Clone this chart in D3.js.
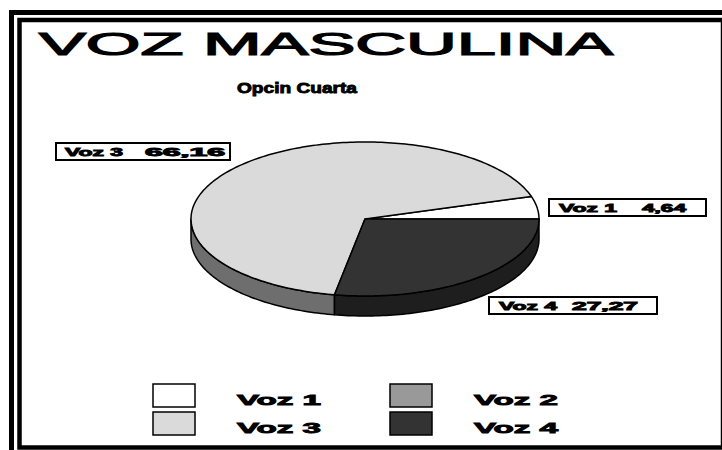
<!DOCTYPE html>
<html lang="es">
<head>
<meta charset="UTF-8">
<title>Voz Masculina</title>
<script src="https://d3js.org/d3.v7.min.js"></script>
<style>
  body { margin: 0; background: #fff; }
  svg { display: block; }
  text { font-family: "Liberation Sans", Arial, sans-serif; fill: #000; }
  .heavy { font-weight: bold; stroke: #000; stroke-width: 0.9px; }
</style>
</head>
<body>
<svg id="chart" width="722" height="450"></svg>
<script>
// data (Voz 2 has no visible slice)
const categories = ["Voz 1", "Voz 2", "Voz 3", "Voz 4"];
const values = [4.64, 0, 66.16, 27.27];
const topColors = ["#ffffff", "#999999", "#dadada", "#333333"];
const sideColors = ["#9a9a9a", "#5a5a5a", "#6e6e6e", "#1e1e1e"];

// where the value boxes sit
const labelBoxes = {
  "Voz 3": { x: 56, y: 143, w: 174, name: 65, value: 145, vw: 80 },
  "Voz 1": { x: 549, y: 199, w: 157, name: 559, value: 642, vw: 44 },
  "Voz 4": { x: 489, y: 297, w: 168, name: 499, value: 572, vw: 66 }
};

const svg = d3.select("#chart");

// double frame
svg.append("rect")
  .attr("x", 11.5).attr("y", 12.5).attr("width", 800).attr("height", 800)
  .attr("fill", "none").attr("stroke", "#000").attr("stroke-width", 5);
svg.append("rect")
  .attr("x", 19.5).attr("y", 20).attr("width", 703.5).attr("height", 427.5)
  .attr("fill", "none").attr("stroke", "#000").attr("stroke-width", 4.5);

// titles
svg.append("text")
  .attr("x", 39).attr("y", 55)
  .attr("font-size", 32)
  .attr("stroke", "#000").attr("stroke-width", 1.2)
  .attr("textLength", 574).attr("lengthAdjust", "spacingAndGlyphs")
  .text("VOZ MASCULINA");

svg.append("text")
  .attr("class", "heavy")
  .attr("x", 237).attr("y", 93)
  .attr("font-size", 15)
  .attr("textLength", 120).attr("lengthAdjust", "spacingAndGlyphs")
  .text("Opcin Cuarta");

// 3D pie
const cx = 365, cy = 219, rx = 174, ry = 77, depth = 20;
const arcs = d3.pie().sort(null).startAngle(0).endAngle(2 * Math.PI)(values);
const pt = (a, dy) => [cx + rx * Math.cos(a), cy - ry * Math.sin(a) + dy];
function arcPts(a0, a1, dy) {
  const n = Math.max(2, Math.ceil((a1 - a0) / 0.02));
  return d3.range(n + 1).map(i => pt(a0 + (a1 - a0) * i / n, dy));
}
const line = d3.line();

const pie = svg.append("g");

// side walls (front half only)
arcs.forEach((d, i) => {
  const s0 = Math.max(d.startAngle, Math.PI);
  const s1 = Math.min(d.endAngle, 2 * Math.PI);
  if (s1 <= s0) return;
  const pts = arcPts(s0, s1, 0).concat(arcPts(s0, s1, depth).reverse());
  pie.append("path")
    .attr("d", line(pts) + "Z")
    .attr("fill", sideColors[i])
    .attr("stroke", "#000").attr("stroke-width", 1.5)
    .attr("stroke-linejoin", "round");
});

// top faces
arcs.forEach((d, i) => {
  if (d.endAngle - d.startAngle <= 0) return;
  const pts = [[cx, cy]].concat(arcPts(d.startAngle, d.endAngle, 0));
  pie.append("path")
    .attr("d", line(pts) + "Z")
    .attr("fill", topColors[i])
    .attr("stroke", "#000").attr("stroke-width", 1.5)
    .attr("stroke-linejoin", "round");
});

// value boxes
categories.forEach((c, i) => {
  const b = labelBoxes[c];
  if (!b) return;
  const g = svg.append("g");
  g.append("rect")
    .attr("x", b.x).attr("y", b.y).attr("width", b.w).attr("height", 17)
    .attr("fill", "#fff").attr("stroke", "#000").attr("stroke-width", 2);
  g.append("text")
    .attr("class", "heavy")
    .attr("x", b.name).attr("y", b.y + 13)
    .attr("font-size", 11)
    .attr("textLength", 58).attr("lengthAdjust", "spacingAndGlyphs")
    .text(c);
  g.append("text")
    .attr("class", "heavy")
    .attr("x", b.value).attr("y", b.y + 13)
    .attr("font-size", 11)
    .attr("textLength", b.vw).attr("lengthAdjust", "spacingAndGlyphs")
    .text(d3.format(".2f")(values[i]).replace(".", ","));
});

// legend, two columns
const legX = d3.scalePoint().domain([0, 1]).range([153, 390]);
const legY = d3.scalePoint().domain([0, 1]).range([384, 412]);
categories.forEach((c, i) => {
  const col = i % 2, row = Math.floor(i / 2);
  svg.append("rect")
    .attr("x", legX(col)).attr("y", legY(row))
    .attr("width", 42).attr("height", 23)
    .attr("fill", topColors[i])
    .attr("stroke", "#000").attr("stroke-width", 1.5);
  svg.append("text")
    .attr("class", "heavy")
    .attr("x", legX(col) + 84).attr("y", legY(row) + 21)
    .attr("font-size", 15)
    .attr("textLength", 84).attr("lengthAdjust", "spacingAndGlyphs")
    .text(c);
});
</script>
</body>
</html>
